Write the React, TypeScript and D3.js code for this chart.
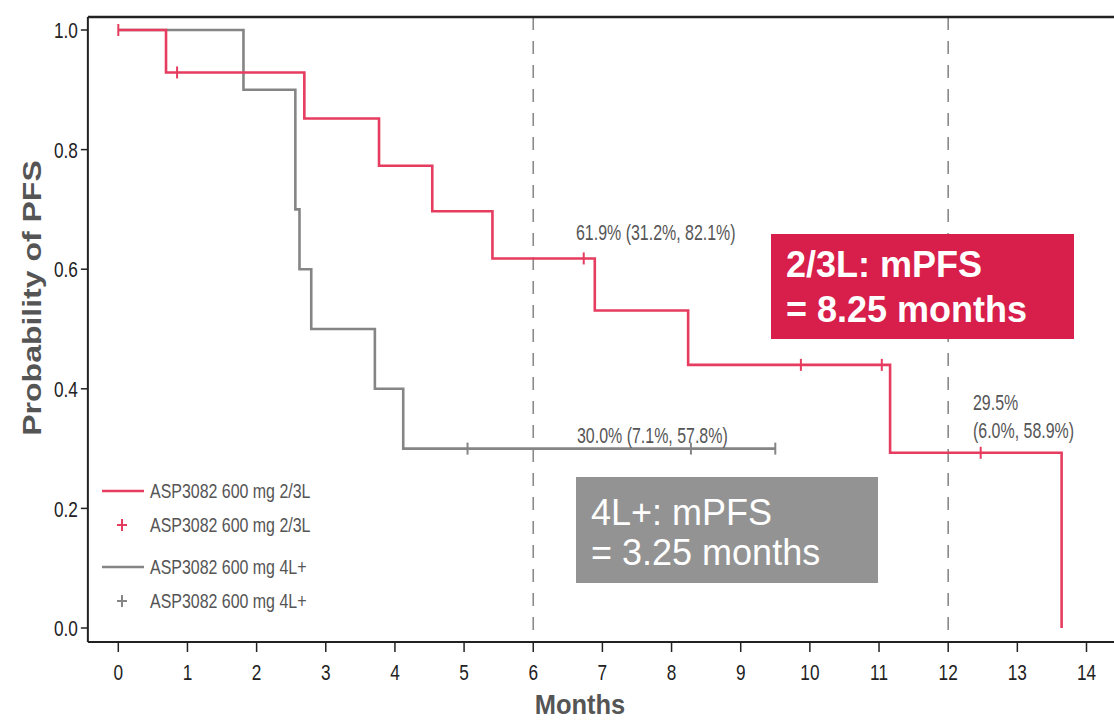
import React from 'react'
import * as d3 from 'd3'

// Kaplan-Meier steps
const redTimes = [0, 0.69, 2.69, 3.77, 4.54, 5.41, 6.89, 8.24, 11.16, 13.64]
const redSurv = [1.0, 0.929, 0.852, 0.773, 0.697, 0.618, 0.531, 0.44, 0.293, 0.0]
const redCensor = [0, 0.85, 6.73, 9.87, 11.04, 12.47]
const redEnd = 13.64

const grayTimes = [0, 1.81, 2.56, 2.62, 2.79, 3.71, 4.12]
const graySurv = [1.0, 0.9, 0.7, 0.6, 0.5, 0.4, 0.3]
const grayCensor = [5.05, 8.28, 9.5]
const grayEnd = 9.5

const xTicks = d3.range(0, 15)
const yTicks = [0, 0.2, 0.4, 0.6, 0.8, 1.0]
const landmarks = [6, 12]

const RED = '#e63c5f'
const GRAY = '#858585'

const legendItems = [
  { label: 'ASP3082 600 mg 2/3L', kind: 'line', color: RED },
  { label: 'ASP3082 600 mg 2/3L', kind: 'plus', color: RED },
  { label: 'ASP3082 600 mg 4L+', kind: 'line', color: GRAY },
  { label: 'ASP3082 600 mg 4L+', kind: 'plus', color: GRAY },
]

const SANS = '"Liberation Sans", Arial, sans-serif'

const x = d3.scaleLinear().domain([0, 14]).range([118.3, 1086.5])
const y = d3.scaleLinear().domain([0, 1]).range([628, 30])

const frameLeft = x(-0.44)
const frameRight = x(14.6)
const frameTop = 17
const frameBottom = 642

const stepPoints = (times: number[], surv: number[], end: number) => {
  const pts: [number, number][] = []
  times.forEach((t, i) => {
    if (i > 0) pts.push([t, surv[i - 1]])
    pts.push([t, surv[i]])
  })
  pts.push([end, surv[surv.length - 1]])
  return pts
}

const survAt = (times: number[], surv: number[], t: number) => {
  let s = surv[0]
  times.forEach((tt, i) => {
    if (tt <= t) s = surv[i]
  })
  return s
}

const line = d3.line<[number, number]>().x(d => x(d[0])).y(d => y(d[1]))

// the source figure is squeezed horizontally, so text is drawn narrow
const NText = ({ x, y, sx = 0.8, sy = 1, size = 20, anchor = 'start', fill = '#222', weight = 'normal', dy, children }: any) => (
  <text
    transform={`translate(${x},${y}) scale(${sx},${sy})`}
    textAnchor={anchor}
    fontFamily={SANS}
    fontSize={size}
    fontWeight={weight}
    fill={fill}
    dy={dy}
  >
    {children}
  </text>
)

const Curve = ({ times, surv, end, censor, color }: any) => (
  <g>
    <path d={line(stepPoints(times, surv, end)) || ''} fill="none" stroke={color} strokeWidth={2.6} />
    {censor.map((t: number, i: number) => {
      const s = survAt(times, surv, t)
      return (
        <line key={i} x1={x(t)} x2={x(t)} y1={y(s) - 6} y2={y(s) + 6} stroke={color} strokeWidth={2} />
      )
    })}
  </g>
)

export default function App() {
  return (
    <svg
      width={1114}
      height={721}
      style={{ position: 'absolute', left: 0, top: 0, background: '#fff' }}
    >
      {/* landmark dashed lines */}
      {landmarks.map(m => (
        <line
          key={m}
          x1={x(m)}
          x2={x(m)}
          y1={frameTop}
          y2={frameBottom}
          stroke="#8a8a8a"
          strokeWidth={1.6}
          strokeDasharray="13,11"
        />
      ))}

      <Curve times={grayTimes} surv={graySurv} end={grayEnd} censor={grayCensor} color={GRAY} />
      <Curve times={redTimes} surv={redSurv} end={redEnd} censor={redCensor} color={RED} />

      {/* frame */}
      <line x1={frameLeft} x2={frameRight} y1={frameTop} y2={frameTop} stroke="#222" strokeWidth={2.5} />
      <line x1={frameLeft} x2={frameLeft} y1={frameTop} y2={frameBottom} stroke="#222" strokeWidth={2} />
      <line x1={frameLeft} x2={frameRight} y1={frameBottom} y2={frameBottom} stroke="#222" strokeWidth={2} />

      {/* y axis */}
      {yTicks.map(t => (
        <g key={t}>
          <line x1={frameLeft - 7} x2={frameLeft} y1={y(t)} y2={y(t)} stroke="#222" strokeWidth={1.5} />
          <NText x={frameLeft - 10} y={y(t)} dy="0.36em" anchor="end" size={21} sx={0.82} sy={1.08}>
            {t.toFixed(1)}
          </NText>
        </g>
      ))}

      {/* x axis */}
      {xTicks.map(t => (
        <g key={t}>
          <line x1={x(t)} x2={x(t)} y1={frameBottom} y2={frameBottom + 10} stroke="#222" strokeWidth={1.5} />
          <NText x={x(t)} y={680} anchor="middle" size={21} sx={0.82} sy={1.08}>
            {t}
          </NText>
        </g>
      ))}

      <NText x={580} y={714} anchor="middle" size={25} sx={1.02} sy={1.1} weight="bold" fill="#555">
        Months
      </NText>
      <text
        transform="translate(41,298) rotate(-90) scale(1.28,1)"
        textAnchor="middle"
        fontFamily={SANS}
        fontWeight="bold"
        fontSize={25}
        fill="#555"
      >
        Probability of PFS
      </text>

      {/* legend */}
      {legendItems.map((d, i) => {
        const cy = [491, 525, 567, 601][i]
        return (
          <g key={i}>
            {d.kind === 'line' ? (
              <line x1={102} x2={144} y1={cy} y2={cy} stroke={d.color} strokeWidth={2.6} />
            ) : (
              <g stroke={d.color} strokeWidth={2}>
                <line x1={122} x2={122} y1={cy - 6} y2={cy + 6} />
                <line x1={117} x2={127} y1={cy} y2={cy} />
              </g>
            )}
            <NText x={150} y={cy} dy="0.36em" size={19} sx={0.84} sy={1.05} fill="#555">
              {d.label}
            </NText>
          </g>
        )
      })}

      {/* landmark annotations */}
      <NText x={576} y={240} size={21} sx={0.76} sy={1.05} fill="#555">61.9% (31.2%, 82.1%)</NText>
      <NText x={577} y={443} size={21} sx={0.76} sy={1.05} fill="#555">30.0% (7.1%, 57.8%)</NText>
      <NText x={973} y={410} size={21} sx={0.76} sy={1.05} fill="#555">29.5%</NText>
      <NText x={973} y={438} size={21} sx={0.76} sy={1.05} fill="#555">(6.0%, 58.9%)</NText>

      {/* median boxes */}
      <rect x={771} y={234} width={303} height={105} fill="#d81e4a" />
      <g fontFamily={SANS} fontWeight="bold" fontSize={36} fill="#fff">
        <text x={786} y={277}>2/3L: mPFS</text>
        <text x={786} y={322}>= 8.25 months</text>
      </g>
      <rect x={576} y={477} width={302} height={106} fill="#939393" />
      <g fontFamily={SANS} fontSize={36} fill="#fff">
        <text x={591} y={525}>4L+: mPFS</text>
        <text x={591} y={565}>= 3.25 months</text>
      </g>
    </svg>
  )
}
